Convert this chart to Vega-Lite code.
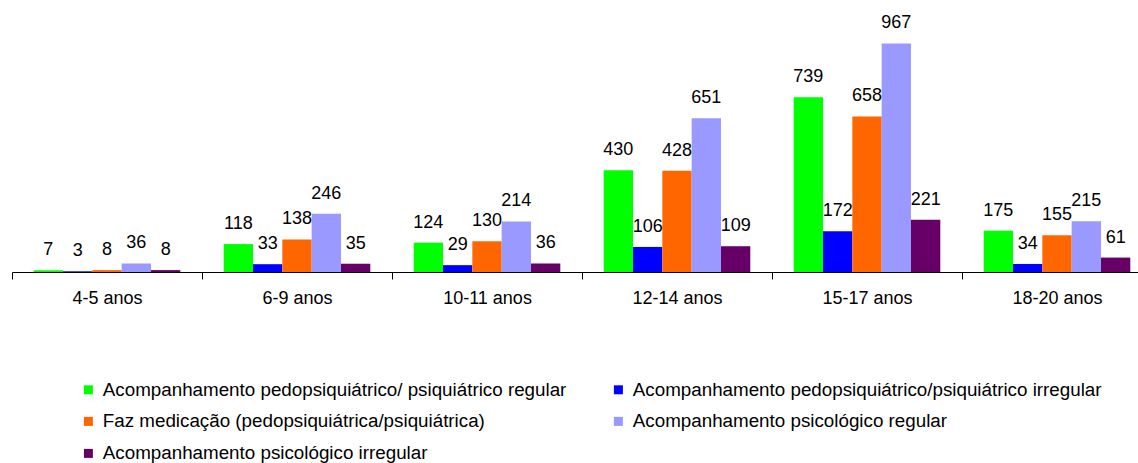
{
  "$schema": "https://vega.github.io/schema/vega-lite/v6.json",
  "usermeta": {"embedOptions": {"actions": false}},
  "autosize": {"type": "none"},
  "width": 1140,
  "height": 260,
  "padding": {"left": 12, "top": 12, "right": -14, "bottom": 191},
  "background": "white",
  "config": {
    "font": "Liberation Sans, Arial, sans-serif",
    "view": {"stroke": null}
  },
  "data": {
    "values": [
      {"grupo": "4-5 anos", "serie": "Acompanhamento pedopsiquiátrico/ psiquiátrico regular", "valor": 7},
      {"grupo": "4-5 anos", "serie": "Acompanhamento pedopsiquiátrico/psiquiátrico irregular", "valor": 3},
      {"grupo": "4-5 anos", "serie": "Faz medicação (pedopsiquiátrica/psiquiátrica)", "valor": 8},
      {"grupo": "4-5 anos", "serie": "Acompanhamento psicológico regular", "valor": 36},
      {"grupo": "4-5 anos", "serie": "Acompanhamento psicológico irregular", "valor": 8},
      {"grupo": "6-9 anos", "serie": "Acompanhamento pedopsiquiátrico/ psiquiátrico regular", "valor": 118},
      {"grupo": "6-9 anos", "serie": "Acompanhamento pedopsiquiátrico/psiquiátrico irregular", "valor": 33},
      {"grupo": "6-9 anos", "serie": "Faz medicação (pedopsiquiátrica/psiquiátrica)", "valor": 138},
      {"grupo": "6-9 anos", "serie": "Acompanhamento psicológico regular", "valor": 246},
      {"grupo": "6-9 anos", "serie": "Acompanhamento psicológico irregular", "valor": 35},
      {"grupo": "10-11 anos", "serie": "Acompanhamento pedopsiquiátrico/ psiquiátrico regular", "valor": 124},
      {"grupo": "10-11 anos", "serie": "Acompanhamento pedopsiquiátrico/psiquiátrico irregular", "valor": 29},
      {"grupo": "10-11 anos", "serie": "Faz medicação (pedopsiquiátrica/psiquiátrica)", "valor": 130},
      {"grupo": "10-11 anos", "serie": "Acompanhamento psicológico regular", "valor": 214},
      {"grupo": "10-11 anos", "serie": "Acompanhamento psicológico irregular", "valor": 36},
      {"grupo": "12-14 anos", "serie": "Acompanhamento pedopsiquiátrico/ psiquiátrico regular", "valor": 430},
      {"grupo": "12-14 anos", "serie": "Acompanhamento pedopsiquiátrico/psiquiátrico irregular", "valor": 106},
      {"grupo": "12-14 anos", "serie": "Faz medicação (pedopsiquiátrica/psiquiátrica)", "valor": 428},
      {"grupo": "12-14 anos", "serie": "Acompanhamento psicológico regular", "valor": 651},
      {"grupo": "12-14 anos", "serie": "Acompanhamento psicológico irregular", "valor": 109},
      {"grupo": "15-17 anos", "serie": "Acompanhamento pedopsiquiátrico/ psiquiátrico regular", "valor": 739},
      {"grupo": "15-17 anos", "serie": "Acompanhamento pedopsiquiátrico/psiquiátrico irregular", "valor": 172},
      {"grupo": "15-17 anos", "serie": "Faz medicação (pedopsiquiátrica/psiquiátrica)", "valor": 658},
      {"grupo": "15-17 anos", "serie": "Acompanhamento psicológico regular", "valor": 967},
      {"grupo": "15-17 anos", "serie": "Acompanhamento psicológico irregular", "valor": 221},
      {"grupo": "18-20 anos", "serie": "Acompanhamento pedopsiquiátrico/ psiquiátrico regular", "valor": 175},
      {"grupo": "18-20 anos", "serie": "Acompanhamento pedopsiquiátrico/psiquiátrico irregular", "valor": 34},
      {"grupo": "18-20 anos", "serie": "Faz medicação (pedopsiquiátrica/psiquiátrica)", "valor": 155},
      {"grupo": "18-20 anos", "serie": "Acompanhamento psicológico regular", "valor": 215},
      {"grupo": "18-20 anos", "serie": "Acompanhamento psicológico irregular", "valor": 61}
    ]
  },
  "encoding": {
    "x": {
      "field": "grupo",
      "type": "nominal",
      "sort": ["4-5 anos", "6-9 anos", "10-11 anos", "12-14 anos", "15-17 anos", "18-20 anos"],
      "scale": {"paddingInner": 0, "paddingOuter": 0},
      "axis": {
        "title": null,
        "labelAngle": 0,
        "labelFontSize": 18,
        "labelColor": "black",
        "labelPadding": 10,
        "domainColor": "black",
        "domainWidth": 1,
        "tickColor": "black",
        "tickSize": 7,
        "tickBand": "extent",
        "grid": false
      }
    },
    "xOffset": {
      "field": "serie",
      "type": "nominal",
      "sort": [
        "Acompanhamento pedopsiquiátrico/ psiquiátrico regular",
        "Acompanhamento pedopsiquiátrico/psiquiátrico irregular",
        "Faz medicação (pedopsiquiátrica/psiquiátrica)",
        "Acompanhamento psicológico regular",
        "Acompanhamento psicológico irregular"
      ],
      "scale": {"paddingInner": 0, "paddingOuter": 0.74}
    },
    "y": {
      "field": "valor",
      "type": "quantitative",
      "scale": {"domain": [0, 1100], "nice": false},
      "axis": null
    }
  },
  "layer": [
    {
      "mark": {"type": "bar"},
      "encoding": {
        "color": {
          "field": "serie",
          "type": "nominal",
          "sort": [
            "Acompanhamento pedopsiquiátrico/ psiquiátrico regular",
            "Acompanhamento pedopsiquiátrico/psiquiátrico irregular",
            "Faz medicação (pedopsiquiátrica/psiquiátrica)",
            "Acompanhamento psicológico regular",
            "Acompanhamento psicológico irregular"
          ],
          "scale": {
            "domain": [
              "Acompanhamento pedopsiquiátrico/ psiquiátrico regular",
              "Acompanhamento pedopsiquiátrico/psiquiátrico irregular",
              "Faz medicação (pedopsiquiátrica/psiquiátrica)",
              "Acompanhamento psicológico regular",
              "Acompanhamento psicológico irregular"
            ],
            "range": ["#00FF00", "#0000FF", "#FF6600", "#9999FF", "#660066"]
          },
          "legend": {
            "title": null,
            "orient": "none",
            "direction": "horizontal",
            "legendX": 67,
            "legendY": 368,
            "columns": 2,
            "columnPadding": 42,
            "rowPadding": 12,
            "padding": 0,
            "symbolType": "square",
            "symbolSize": 81,
            "symbolStrokeWidth": 0,
            "symbolOpacity": 1,
            "labelFontSize": 18.8,
            "labelColor": "black",
            "labelLimit": 0,
            "labelOffset": 5
          }
        }
      }
    },
    {
      "mark": {"type": "text", "baseline": "alphabetic", "dy": -15, "fontSize": 18, "color": "black"},
      "encoding": {
        "text": {"field": "valor", "type": "quantitative"}
      }
    }
  ]
}
